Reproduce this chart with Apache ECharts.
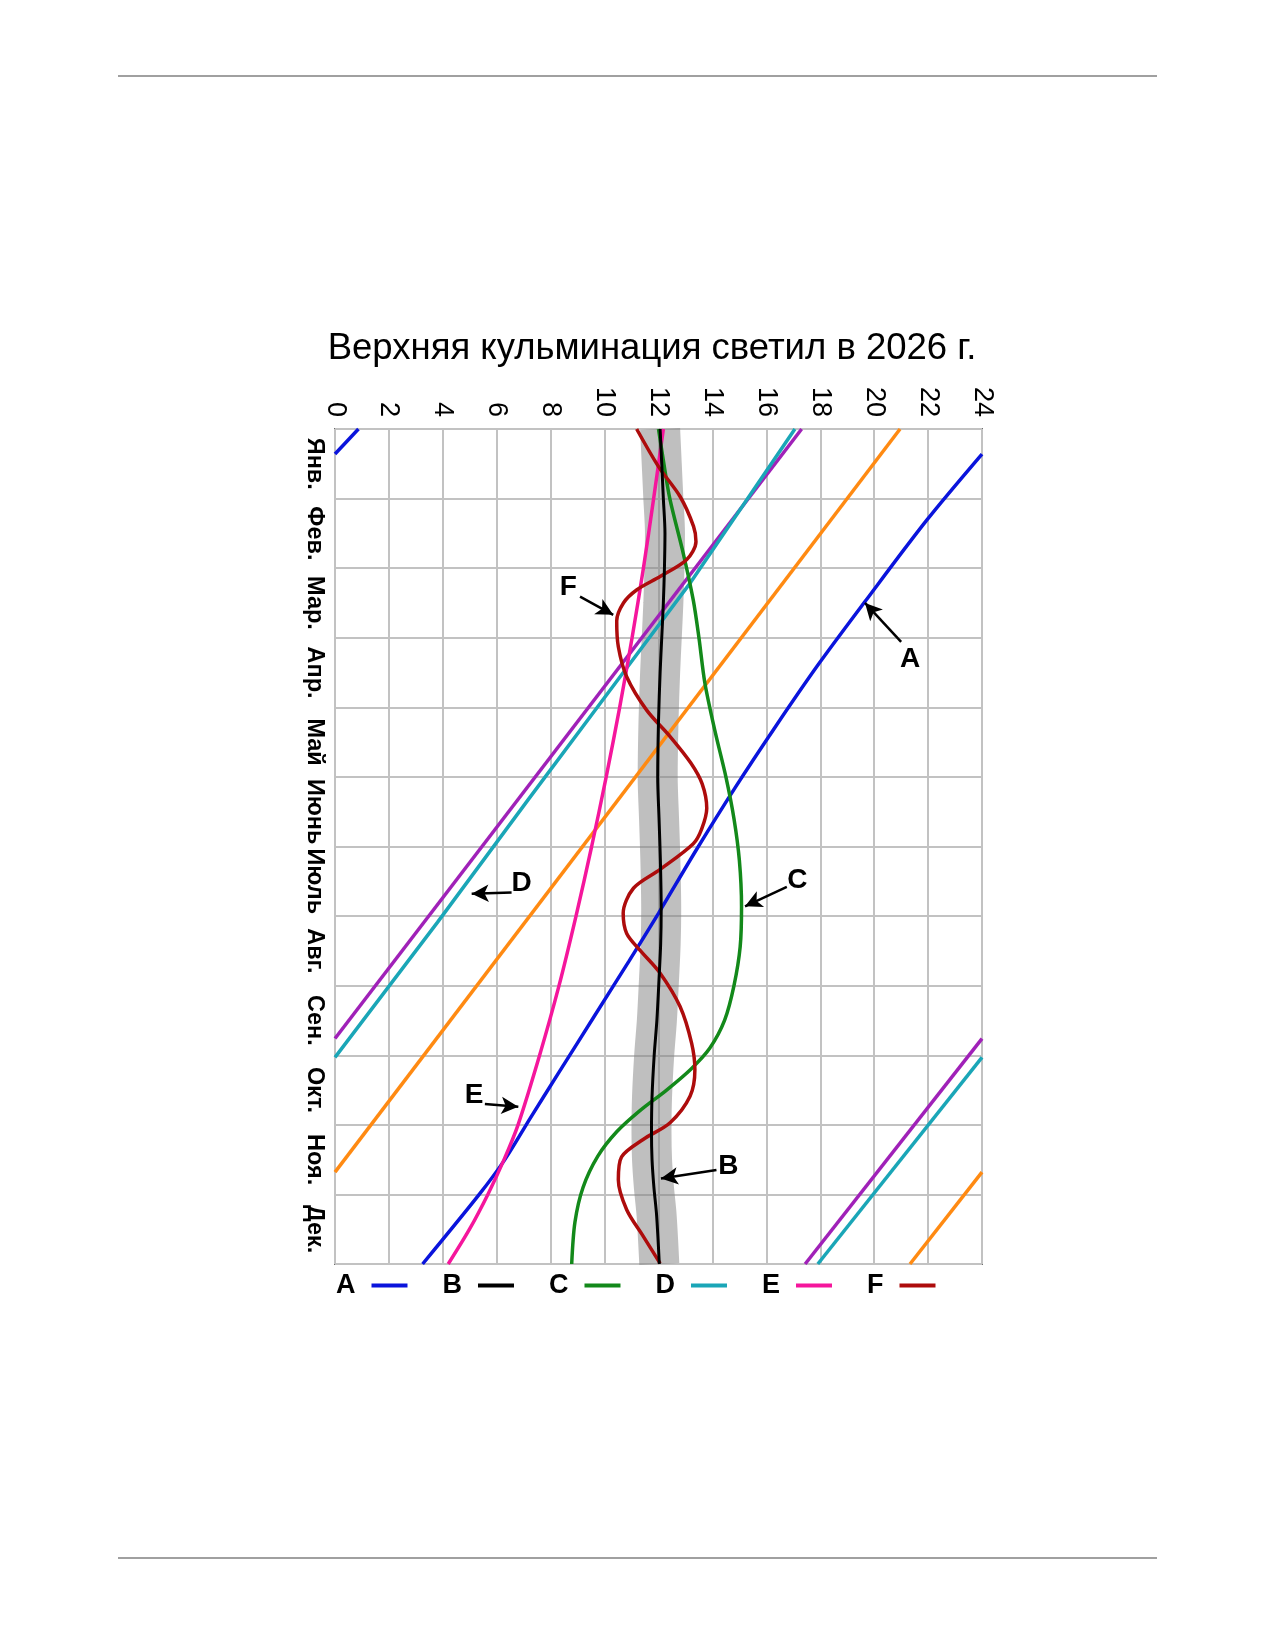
<!DOCTYPE html>
<html>
<head>
<meta charset="utf-8">
<title>Верхняя кульминация светил в 2026 г.</title>
<script src="https://cdn.jsdelivr.net/npm/echarts@6/dist/echarts.min.js"></script>
<style>
  html, body { margin: 0; padding: 0; background: #fff; }
  #main { position: absolute; left: 0; top: 0; width: 1275px; height: 1650px; }
  .rule { position: absolute; z-index: 5; left: 118px; width: 1039px; height: 0; border-top: 2px solid #a0a0a0; }
</style>
</head>
<body>
<div id="main"></div>
<div class="rule" style="top:75px"></div>
<div class="rule" style="top:1557px"></div>
<script>
// y values are months from Jan 1 (0) to Dec 31 (12), x values are hours 0..24
var months = ['Янв.', 'Фев.', 'Мар.', 'Апр.', 'Май', 'Июнь', 'Июль', 'Авг.', 'Сен.', 'Окт.', 'Ноя.', 'Дек.'];
var legendNames = ['A', 'B', 'C', 'D', 'E', 'F'];

var aHead = [[0.87, 0], [0, 0.36]];
var aTail = [[24, 0.36], [21.95, 1.31], [19.66, 2.48], [17.9, 3.4], [16.3, 4.3], [14.85, 5.15],
  [13.4, 6.05], [12.0, 6.96], [10.9, 7.65], [9.6, 8.45], [8.3, 9.25], [7.25, 9.9], [6.3, 10.5],
  [5.35, 11.0], [3.25, 12.0]];

var bLine = [[12.06, 0], [12.12, 0.5], [12.18, 1.0], [12.24, 1.5], [12.22, 2.0], [12.18, 2.5],
  [12.12, 3.0], [12.06, 3.5], [12.0, 4.2], [11.97, 5.0], [12.02, 5.6], [12.07, 6.2], [12.1, 6.9],
  [12.08, 7.4], [12.02, 7.9], [11.94, 8.5], [11.84, 9.0], [11.76, 9.6], [11.74, 10.1], [11.76, 10.5],
  [11.83, 10.9], [11.93, 11.3], [12.03, 12.0]];

var cLine = [[12.0, 0], [12.2, 0.5], [12.42, 1.0], [12.92, 1.79], [13.29, 2.46], [13.5, 3.0],
  [13.72, 3.65], [14.1, 4.35], [14.5, 5.0], [14.8, 5.6], [15.0, 6.2], [15.08, 6.86], [15.03, 7.44],
  [14.8, 8.0], [14.45, 8.5], [13.9, 8.9], [13.2, 9.2], [12.3, 9.5], [11.3, 9.8], [10.45, 10.1],
  [9.75, 10.45], [9.2, 10.9], [8.9, 11.4], [8.78, 12.0]];

var dHead = [[17.06, 0], [15.27, 1.02], [13.2, 2.2], [10.5, 3.6], [7.16, 5.33], [3.8, 7.09], [0, 9.03]];
var dTail = [[24, 9.03], [17.91, 12]];

var eLine = [[12.18, 0], [11.82, 1], [11.44, 2], [11.02, 3], [10.56, 4], [10.06, 5], [9.52, 6],
  [8.94, 7], [8.31, 8], [7.59, 9], [6.79, 10], [6.27, 10.5], [5.67, 11], [4.99, 11.5], [4.2, 12]];

var fLine = [[11.19, 0], [12.0, 0.54], [12.8, 0.97], [13.3, 1.4], [13.39, 1.62], [13.04, 1.88],
  [12.06, 2.12], [11.2, 2.31], [10.7, 2.5], [10.45, 2.76], [10.51, 3.13], [10.82, 3.56],
  [11.56, 4.04], [12.43, 4.42], [13.2, 4.8], [13.62, 5.1], [13.79, 5.45], [13.6, 5.75],
  [13.29, 5.96], [12.06, 6.33], [11.07, 6.6], [10.69, 6.96], [10.82, 7.25], [11.31, 7.49],
  [12.06, 7.82], [12.8, 8.3], [13.23, 8.83], [13.35, 9.21], [13.17, 9.59], [12.43, 9.97],
  [11.43, 10.21], [10.63, 10.46], [10.51, 10.79], [10.82, 11.22], [11.43, 11.6], [12.06, 11.99]];

var violetHead = [[17.31, 0], [0, 8.76]];
var violetTail = [[24, 8.76], [17.44, 12]];
var orangeHead = [[20.96, 0], [0, 10.68]];
var orangeTail = [[24, 10.68], [21.33, 12]];

// letter positions and arrows (tail -> tip)
var notes = [[21.33, 3.31, 'A'], [14.59, 10.6, 'B'], [17.15, 6.49, 'C'],
  [6.92, 6.53, 'D'], [5.16, 9.57, 'E'], [8.65, 2.27, 'F']];
var arrows = [
  [[21.0, 3.06], [19.66, 2.5]],
  [[14.15, 10.65], [12.09, 10.77]],
  [[16.76, 6.58], [15.21, 6.86]],
  [[6.55, 6.66], [5.07, 6.68]],
  [[5.56, 9.70], [6.8, 9.74]],
  [[9.09, 2.41], [10.32, 2.67]]
];

var FONT = 'Liberation Sans, Arial, sans-serif';

function line(name, data, color, smooth, z, width) {
  return {
    name: name,
    type: 'line',
    data: data,
    smooth: smooth ? 0.3 : false,
    showSymbol: false,
    symbol: 'none',
    z: z || 2,
    lineStyle: { color: color, width: width || 3.5 },
    itemStyle: { color: color },
    emphasis: { disabled: true }
  };
}

var chart = echarts.init(document.getElementById('main'));
chart.setOption({
  animation: false,
  backgroundColor: '#fff',
  title: {
    text: 'Верхняя кульминация светил в 2026 г.',
    left: 652,
    textAlign: 'center',
    top: 330,
    padding: 0,
    textStyle: { fontSize: 36.5, fontWeight: 'normal', color: '#000', fontFamily: FONT }
  },
  legend: {
    data: legendNames,
    left: 336,
    top: 1272,
    padding: 0,
    align: 'right',
    icon: 'rect',
    itemWidth: 36,
    itemHeight: 4,
    itemGap: 35,
    selectedMode: false,
    textStyle: { fontSize: 27, fontWeight: 'bold', color: '#000', fontFamily: FONT, padding: [0, 11, 0, 0] }
  },
  grid: {
    left: 335, top: 429, width: 647, height: 835,
    show: true, borderColor: '#6e6e6e', borderWidth: 2, backgroundColor: 'transparent'
  },
  xAxis: {
    type: 'value', position: 'top', min: 0, max: 24, interval: 2,
    axisLine: { show: false },
    axisTick: { show: false },
    axisLabel: { rotate: -90, margin: 12, fontSize: 27, color: '#000', fontFamily: FONT },
    splitLine: { show: true, lineStyle: { color: '#c2c2c2', width: 2 } }
  },
  yAxis: [{
    type: 'value', min: 0, max: 12, interval: 1, inverse: true,
    axisLine: { show: false },
    axisTick: { show: false },
    axisLabel: { show: false },
    splitLine: { show: true, lineStyle: { color: '#c2c2c2', width: 2 } }
  }, {
    type: 'category', data: months, inverse: true, position: 'left',
    axisLine: { show: false },
    axisTick: { show: false },
    splitLine: { show: false },
    axisLabel: { rotate: -90, interval: 0, margin: 9, fontSize: 23.5, fontWeight: 'bold', color: '#000', fontFamily: FONT }
  }],
  series: [
    {
      name: 'band', type: 'line', data: bLine, smooth: 0.3, symbol: 'none', z: 1,
      lineStyle: { color: 'rgba(128,128,128,0.5)', width: 40 },
      emphasis: { disabled: true }
    },
    line('violet', violetHead, '#a021b8', false),
    line('violet', violetTail, '#a021b8', false),
    line('orange', orangeHead, '#ff8a12', false),
    line('orange', orangeTail, '#ff8a12', false),
    line('D', dHead, '#1aa6b7', false),
    line('D', dTail, '#1aa6b7', false),
    line('A', aHead, '#0a14dc', false),
    line('A', aTail, '#0a14dc', true),
    line('E', eLine, '#f5169c', true),
    line('C', cLine, '#13891a', true),
    line('F', fLine, '#ad0c0c', true),
    line('B', bLine, '#000000', true, 3, 3),
    {
      name: 'notes', type: 'scatter', data: notes, symbolSize: 0, z: 5,
      itemStyle: { color: '#000' },
      label: {
        show: true, position: 'inside', formatter: function (p) { return p.value[2]; },
        fontSize: 28, fontWeight: 'bold', color: '#000', textBorderWidth: 0, opacity: 1,
        fontFamily: FONT
      },
      emphasis: { disabled: true },
      markLine: {
        silent: true,
        symbol: ['none', 'arrow'],
        symbolSize: [13, 17],
        label: { show: false },
        lineStyle: { color: '#000', width: 2.5, type: 'solid', opacity: 1 },
        data: arrows.map(function (a) { return [{ coord: a[0] }, { coord: a[1] }]; })
      }
    }
  ]
});
</script>
</body>
</html>
